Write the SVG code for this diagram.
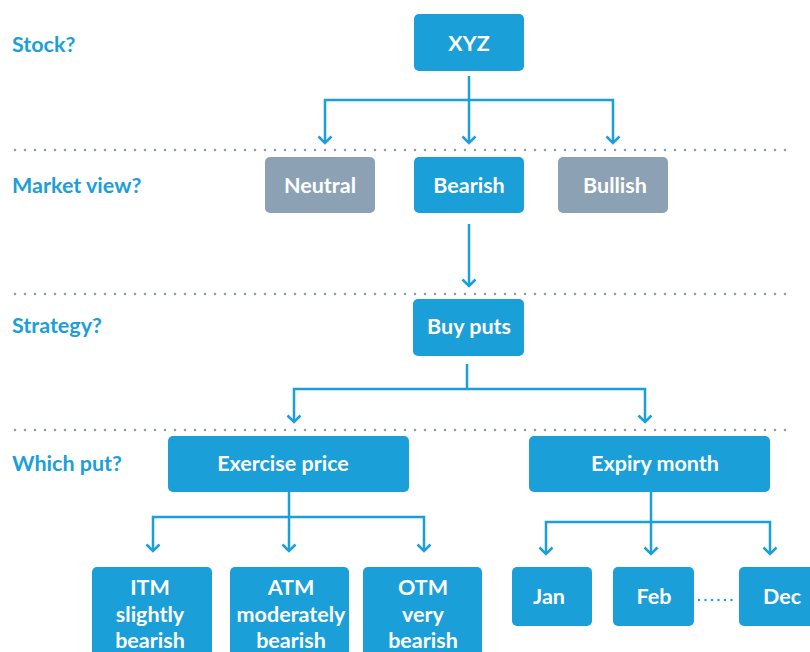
<svg xmlns="http://www.w3.org/2000/svg" width="810" height="652" viewBox="0 0 810 652">
<style>
.q{font-family:Lato,"Open Sans","Liberation Sans",sans-serif;font-weight:bold;font-size:21.5px;fill:#1a9fd8}
.t{font-family:Lato,"Open Sans","Liberation Sans",sans-serif;font-weight:bold;font-size:21.5px;fill:#ffffff;text-anchor:middle}
.b{fill:#1a9fd8}
.g{fill:#8ca2b4}
.sep{stroke:#8a9cac;stroke-width:2.5;stroke-linecap:round;stroke-dasharray:0 10;fill:none}
.c{stroke:#1a9fd8;stroke-width:2.5;fill:none}
.a{marker-end:url(#arr)}
</style>
<defs>
<marker id="arr" markerUnits="userSpaceOnUse" markerWidth="20" markerHeight="20" viewBox="-10 -10 20 20" refX="0" refY="0" orient="auto" overflow="visible">
<path d="M-6.5,-6.5 L0,0 L-6.5,6.5" fill="none" stroke="#1a9fd8" stroke-width="2.5"/>
</marker>
</defs>
<rect width="810" height="652" fill="#ffffff"/>
<g id="separators">
<line class="sep" x1="15" y1="150" x2="795" y2="150"/>
<line class="sep" x1="15" y1="294" x2="795" y2="294"/>
<line class="sep" x1="15" y1="430" x2="795" y2="430"/>
</g>
<g id="questions">
<text class="q" x="12" y="52">Stock?</text>
<text class="q" x="12" y="193">Market view?</text>
<text class="q" x="12" y="333">Strategy?</text>
<text class="q" x="12" y="471">Which put?</text>
</g>
<g id="connectors">
<path class="c" d="M469,76 V100"/>
<path class="c a" d="M469,100 H325 V143"/>
<path class="c a" d="M469,100 V143"/>
<path class="c a" d="M469,100 H613 V143"/>
<path class="c a" d="M469,224 V286"/>
<path class="c" d="M467,364 V389"/>
<path class="c a" d="M467,389 H294 V422"/>
<path class="c a" d="M467,389 H645 V422"/>
<path class="c" d="M289,492 V517"/>
<path class="c a" d="M289,517 H153 V551"/>
<path class="c a" d="M289,517 V551"/>
<path class="c a" d="M289,517 H424 V551"/>
<path class="c" d="M651,492 V522"/>
<path class="c a" d="M651,522 H546 V554"/>
<path class="c a" d="M651,522 V554"/>
<path class="c a" d="M651,522 H770 V554"/>
<line x1="699" y1="600" x2="732" y2="600" stroke="#1a9fd8" stroke-width="2.5" stroke-linecap="round" stroke-dasharray="0 6.5"/>
</g>
<g id="xyz"><rect class="b" x="414" y="14" width="110" height="57" rx="5"/><text class="t" x="469" y="51">XYZ</text></g>
<g id="neutral"><rect class="g" x="265" y="157" width="110" height="56" rx="5"/><text class="t" x="320" y="193">Neutral</text></g>
<g id="bearish"><rect class="b" x="414" y="157" width="110" height="56" rx="5"/><text class="t" x="469" y="193">Bearish</text></g>
<g id="bullish"><rect class="g" x="558" y="157" width="110" height="56" rx="5"/><text class="t" x="615" y="193">Bullish</text></g>
<g id="buyputs"><rect class="b" x="413" y="299" width="111" height="57" rx="5"/><text class="t" x="469" y="334">Buy puts</text></g>
<g id="exercise"><rect class="b" x="168" y="436" width="241" height="56" rx="5"/><text class="t" x="283" y="471">Exercise price</text></g>
<g id="expiry"><rect class="b" x="529" y="436" width="241" height="56" rx="5"/><text class="t" x="655" y="471">Expiry month</text></g>
<g id="itm"><rect class="b" x="92" y="567" width="120" height="100" rx="5"/><text class="t" x="150" y="595">ITM</text><text class="t" x="150" y="622">slightly</text><text class="t" x="150" y="648">bearish</text></g>
<g id="atm"><rect class="b" x="230" y="567" width="119" height="100" rx="5"/><text class="t" x="291" y="595">ATM</text><text class="t" x="291" y="622">moderately</text><text class="t" x="291" y="648">bearish</text></g>
<g id="otm"><rect class="b" x="363" y="567" width="119" height="100" rx="5"/><text class="t" x="423" y="595">OTM</text><text class="t" x="423" y="622">very</text><text class="t" x="423" y="648">bearish</text></g>
<g id="jan"><rect class="b" x="512" y="567" width="80" height="59" rx="5"/><text class="t" x="549" y="604">Jan</text></g>
<g id="feb"><rect class="b" x="613" y="567" width="81" height="59" rx="5"/><text class="t" x="654" y="604">Feb</text></g>
<g id="dec"><rect class="b" x="739" y="567" width="80" height="59" rx="5"/><text class="t" x="782" y="604">Dec</text></g>
</svg>
